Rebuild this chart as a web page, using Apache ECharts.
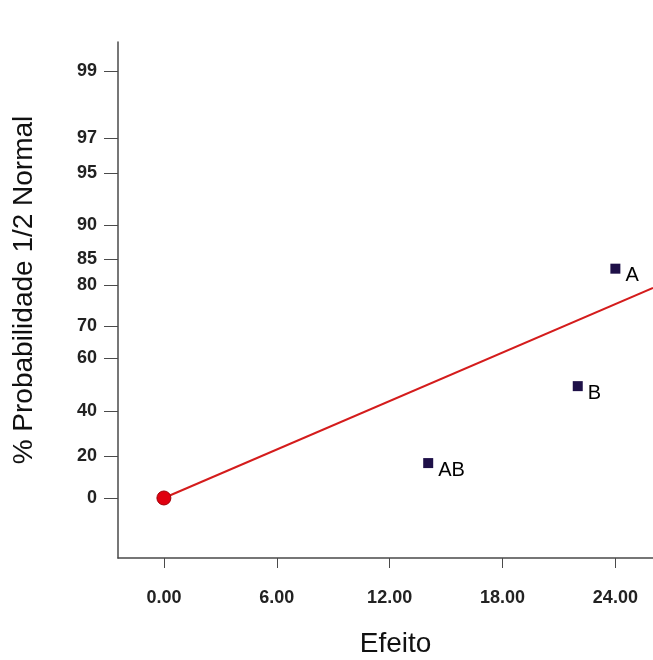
<!DOCTYPE html>
<html>
<head>
<meta charset="utf-8">
<script src="https://cdn.jsdelivr.net/npm/echarts@6/dist/echarts.min.js"></script>
<style>html,body{margin:0;padding:0;background:#fff;}#c{width:653px;height:660px;}</style>
</head>
<body>
<div id="c"></div>
<script>
// ---- data ----
var effectNames = ['AB', 'B', 'A'];
var effectValues = [14.05, 22.0, 24.0];
var effectProb = [16.67, 50.0, 83.33];          // % half-normal probability
var lineEffect = [0, 26];
var lineProb = [0, 79.5];
var originPoint = [0, 0];
var yTickLabels = [0, 20, 40, 60, 70, 80, 85, 90, 95, 97, 99];
var xTickValues = [0, 6, 12, 18, 24];

// inverse normal CDF (Acklam)
function invNorm(p) {
  var a = [-3.969683028665376e+01, 2.209460984245205e+02, -2.759285104469687e+02, 1.383577518672690e+02, -3.066479806614716e+01, 2.506628277459239e+00];
  var b = [-5.447609879822406e+01, 1.615858368580409e+02, -1.556989798598866e+02, 6.680131188771972e+01, -1.328068155288572e+01];
  var c = [-7.784894002430293e-03, -3.223964580411365e-01, -2.400758277161838e+00, -2.549732539343734e+00, 4.374664141464968e+00, 2.938163982698783e+00];
  var d = [7.784695709041462e-03, 3.224671290700398e-01, 2.445134137142996e+00, 3.754408661907416e+00];
  var pl = 0.02425, q, r;
  if (p < pl) { q = Math.sqrt(-2 * Math.log(p)); return (((((c[0]*q+c[1])*q+c[2])*q+c[3])*q+c[4])*q+c[5]) / ((((d[0]*q+d[1])*q+d[2])*q+d[3])*q+1); }
  if (p <= 1 - pl) { q = p - 0.5; r = q*q; return (((((a[0]*r+a[1])*r+a[2])*r+a[3])*r+a[4])*r+a[5])*q / (((((b[0]*r+b[1])*r+b[2])*r+b[3])*r+b[4])*r+1); }
  q = Math.sqrt(-2 * Math.log(1 - p)); return -(((((c[0]*q+c[1])*q+c[2])*q+c[3])*q+c[4])*q+c[5]) / ((((d[0]*q+d[1])*q+d[2])*q+d[3])*q+1);
}
function halfZ(pct) { return pct <= 0 ? 0 : invNorm(0.5 + pct / 200); }

var yTickZ = yTickLabels.map(halfZ);
var pts = effectValues.map(function (v, i) { return [v, halfZ(effectProb[i]), effectNames[i]]; });
var linePts = lineEffect.map(function (v, i) { return [v, halfZ(lineProb[i])]; });

var chart = echarts.init(document.getElementById('c'));
var axisCol = '#4a4a4a';
chart.setOption({
  animation: false,
  backgroundColor: '#fff',
  grid: { left: 118, right: 0, top: 42, bottom: 102, containLabel: false, outerBoundsMode: 'none' },
  xAxis: {
    type: 'value', min: -2.44, max: 26,
    name: 'Efeito', nameLocation: 'middle', nameGap: 72,
    nameTextStyle: { fontFamily: 'Liberation Sans', fontSize: 28, color: '#111', padding: [0, 0, 0, 20] },
    axisLine: { show: true, onZero: false, lineStyle: { color: axisCol, width: 1.5 } },
    axisTick: { show: true, length: 10, customValues: xTickValues, lineStyle: { color: axisCol } },
    axisLabel: { customValues: xTickValues, margin: 31, fontFamily: 'Liberation Sans', fontSize: 18, fontWeight: 'bold', color: '#222',
      formatter: function (v) { return v.toFixed(2); } },
    splitLine: { show: false }
  },
  yAxis: {
    type: 'value', min: -0.362, max: 2.75,
    name: '% Probabilidade 1/2 Normal', nameLocation: 'middle', nameGap: 80, nameRotate: 90,
    nameTextStyle: { fontFamily: 'Liberation Sans', fontSize: 28, color: '#111', padding: [0, 0, 0, 20] },
    axisLine: { show: true, onZero: false, lineStyle: { color: axisCol, width: 1.5 } },
    axisTick: { show: true, length: 14, customValues: yTickZ, lineStyle: { color: axisCol } },
    axisLabel: { customValues: yTickZ, margin: 21, fontFamily: 'Liberation Sans', fontSize: 18, fontWeight: 'bold', color: '#222',
      formatter: function (v) {
        var best = 0, bd = 1e9;
        for (var i = 0; i < yTickZ.length; i++) { var d = Math.abs(yTickZ[i] - v); if (d < bd) { bd = d; best = i; } }
        return String(yTickLabels[best]);
      } },
    splitLine: { show: false }
  },
  series: [
    { type: 'line', data: linePts, symbol: 'none', lineStyle: { color: '#d41c1c', width: 2 }, z: 2 },
    { type: 'scatter', data: [originPoint], symbolSize: 14,
      itemStyle: { color: '#e0000f', borderColor: '#a00008', borderWidth: 1, opacity: 1 }, z: 3 },
    { type: 'scatter', data: pts, symbol: 'rect', symbolSize: 10,
      itemStyle: { color: '#1e1048', opacity: 1 }, z: 4,
      label: { show: true, position: 'right', distance: 5, offset: [0, 7],
        formatter: function (p) { return p.data[2]; },
        fontFamily: 'Liberation Sans', fontSize: 20, color: '#000' } }
  ]
});
</script>
</body>
</html>
